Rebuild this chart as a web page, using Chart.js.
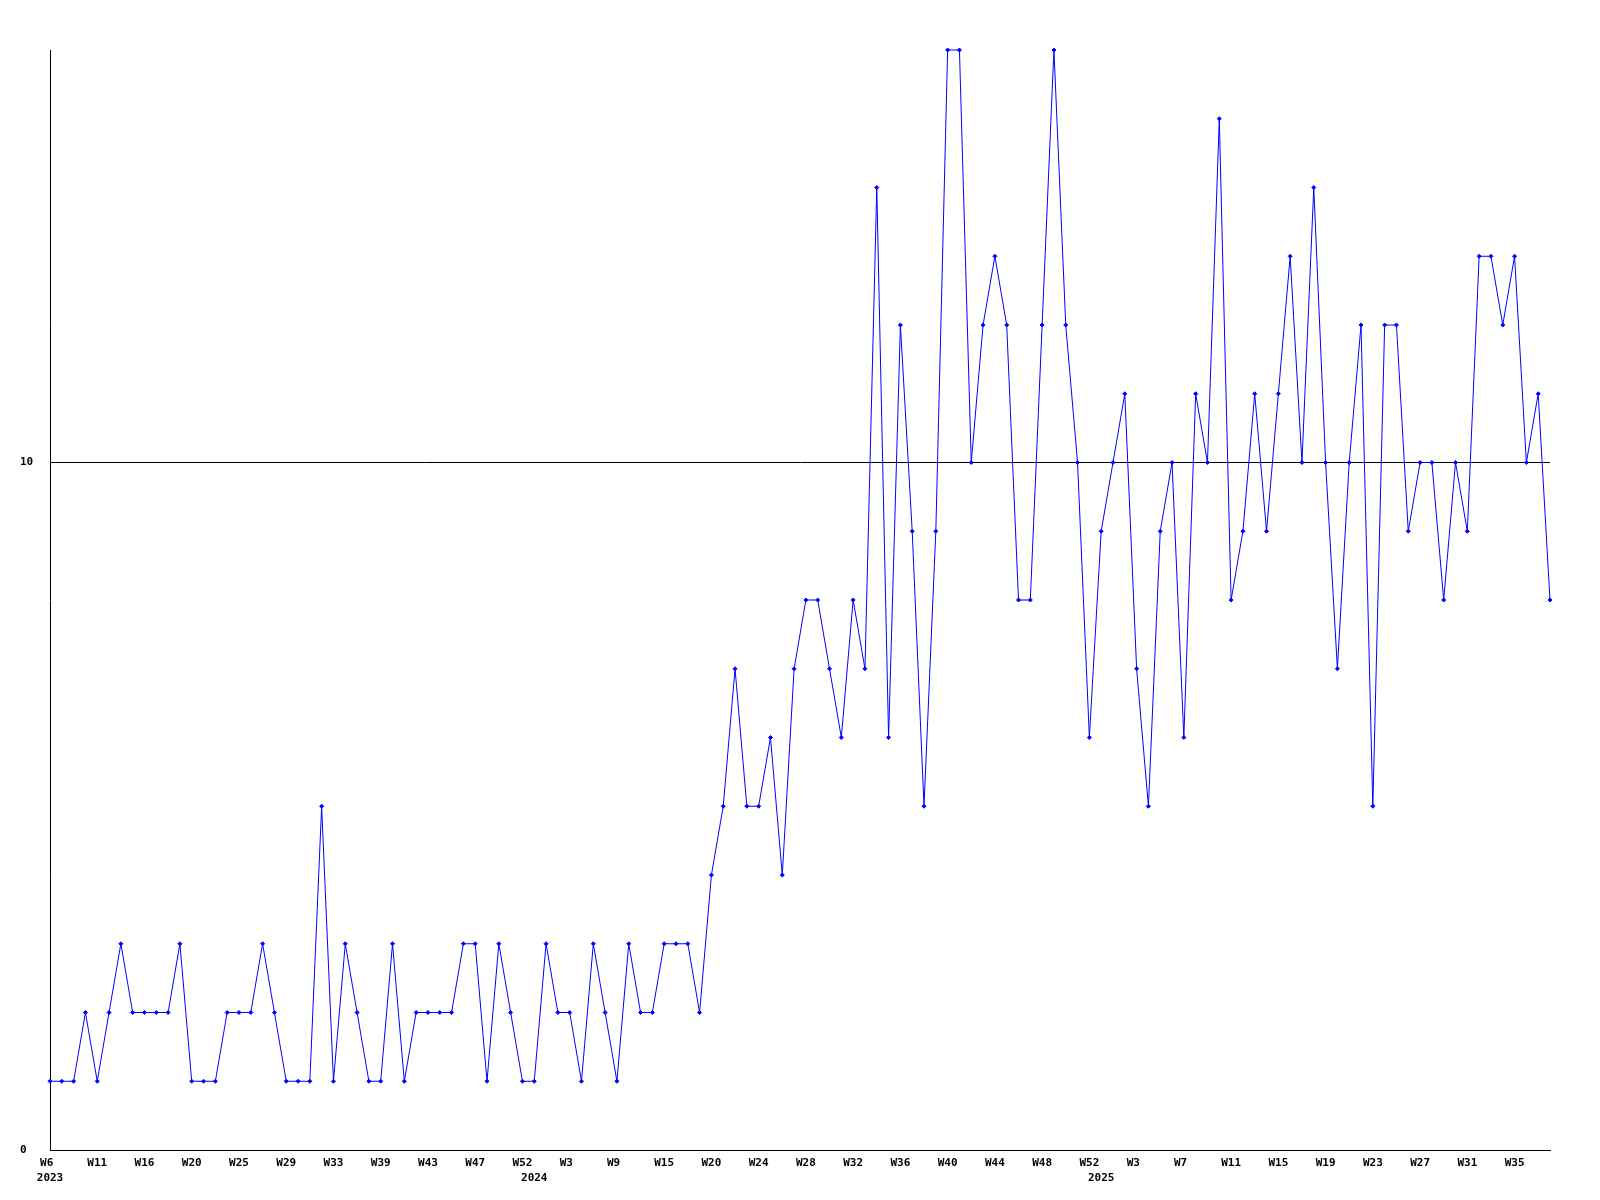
<!DOCTYPE html>
<html>
<head>
<meta charset="utf-8">
<script src="https://cdn.jsdelivr.net/npm/chart.js@4.4.1/dist/chart.umd.min.js"></script>
<style>
  body { margin: 0; background: #fff; }
  #wrap { width: 1600px; height: 1200px; }
</style>
</head>
<body>
<div id="wrap"><canvas id="chart"></canvas></div>
<script>
// weeks that have data, per year
const weeks2023 = [6, 7, 8, 10, 11, 12, 13, 15, 16, 17, 18, 19, 20, 21, 22, 24, 25, 26, 27, 28, 29,
    30, 31, 32, 33, 34, 36, 38, 39, 40, 41, 42, 43, 44, 45, 46, 47, 48, 49, 51, 52];
const weeks2024 = [0, 1, 2, 3, 5, 7, 8, 9, 10, 12, 13, 15, 16, 17, 19, 20, 21, 22, 23, 24, 25, 26,
    27, 28, 29, 30, 31, 32, 33, 34, 35, 36, 37, 38, 39, 40, 41, 42, 43, 44, 45, 46, 47, 48, 49, 50, 51, 52];
const weeks2025 = [0, 1, 2, 3, 4, 5, 6, 7, 8, 9, 10, 11, 12, 13, 14, 15, 16, 17, 18, 19, 20, 21,
    22, 23, 24, 25, 26, 27, 28, 29, 30, 31, 32, 33, 34, 35, 36, 37, 38];

const values2023 = [1, 1, 1, 2, 1, 2, 3, 2, 2, 2, 2, 3, 1, 1, 1, 2, 2, 2, 3, 2, 1, 1, 1, 5, 1, 3, 2,
    1, 1, 3, 1, 2, 2, 2, 2, 3, 3, 1, 3, 2, 1];
const values2024 = [1, 3, 2, 2, 1, 3, 2, 1, 3, 2, 2, 3, 3, 3, 2, 4, 5, 7, 5, 5, 6, 4, 7, 8, 8, 7, 6,
    8, 7, 14, 6, 12, 9, 5, 9, 16, 16, 10, 12, 13, 12, 8, 8, 12, 16, 12, 10, 6];
const values2025 = [9, 10, 11, 7, 5, 9, 10, 6, 11, 10, 15, 8, 9, 11, 9, 11, 13, 10, 14, 10, 7, 10,
    12, 5, 12, 12, 9, 10, 10, 8, 10, 9, 13, 13, 12, 13, 10, 11, 8];

const yTicks = [0, 10];
const yMax = 16;

// build categories
const labels = [];
const years = [];
[[2023, weeks2023], [2024, weeks2024], [2025, weeks2025]].forEach(([y, ws]) => {
    ws.forEach(w => { labels.push('W' + w); years.push(y); });
});
const values = values2023.concat(values2024, values2025);

const font = { family: 'DejaVu Sans Mono', size: 11, weight: 'bold', lineHeight: 1.36 };

new Chart(document.getElementById('chart'), {
    type: 'line',
    data: {
        labels: labels,
        datasets: [{
            data: values,
            borderColor: '#0000ff',
            backgroundColor: '#0000ff',
            borderWidth: 1,
            pointStyle: 'rectRot',
            pointRadius: 2,
            pointBorderWidth: 1,
            tension: 0,
            clip: false
        }]
    },
    options: {
        responsive: true,
        maintainAspectRatio: false,
        animation: false,
        devicePixelRatio: 1,
        layout: { padding: { left: 20, top: 50, right: 50, bottom: 0 } },
        plugins: { legend: { display: false }, tooltip: { enabled: false } },
        scales: {
            x: {
                grid: { display: false },
                border: { color: '#000', width: 1 },
                afterFit: s => { s.height = 50; },
                ticks: {
                    autoSkip: false,
                    maxRotation: 0,
                    minRotation: 0,
                    padding: -2,
                    color: '#000',
                    font: font,
                    callback: (v, i) => {
                        const first = i % 4 === 0 ? labels[i].padEnd(3) : '';
                        const newYear = i === 0 || years[i] !== years[i - 1];
                        if (!first && !newYear) return null;
                        return newYear ? [first, String(years[i])] : first;
                    }
                }
            },
            y: {
                min: 0,
                max: yMax,
                afterBuildTicks: s => { s.ticks = yTicks.map(v => ({ value: v })); },
                afterFit: s => { s.width = 30; },
                grid: { color: '#000', lineWidth: 1, drawTicks: false },
                border: { color: '#000', width: 1 },
                ticks: {
                    crossAlign: 'far',
                    padding: 0,
                    color: '#000',
                    font: font
                }
            }
        }
    }
});
</script>
</body>
</html>
